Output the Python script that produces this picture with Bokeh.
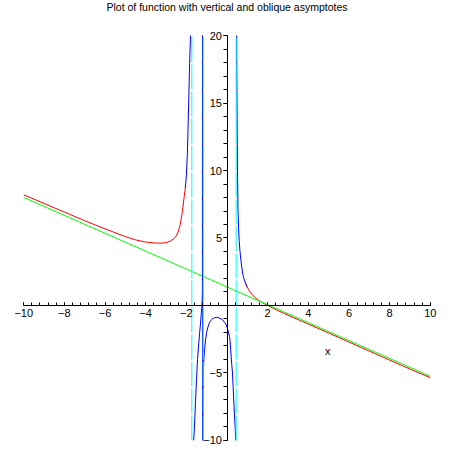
from bokeh.plotting import figure
from bokeh.models import Range1d, FixedTicker, Label
from bokeh.embed import file_html
from bokeh.resources import INLINE

title_text = "Plot of function with vertical and oblique asymptotes"
x_label_text = "x"

x_major = [-10, -8, -6, -4, -2, 0, 2, 4, 6, 8, 10]
x_minor = [round(-10 + 0.4 * i, 2) for i in range(51)]
y_major = [-10, -5, 0, 5, 10, 15, 20]
y_minor = list(range(-10, 21))

# oblique asymptote (green)
asym_x = [-10, 10]
asym_y = [8.0, -5.25]

# vertical asymptotes (cyan dashed)
vert_x = [-1.73, -1.17, 0.45]
vert_y = [-10, 20]

# function, left branch (red)
red_left_x = [-10, -9, -8, -7, -6, -5, -4.5, -4, -3.5, -3.2, -3, -2.8, -2.6,
              -2.5, -2.4, -2.3, -2.2, -2.12, -2.05]
red_left_y = [8.2, 7.56, 6.92, 6.28, 5.68, 5.1, 4.86, 4.7, 4.62, 4.62, 4.66,
              4.76, 4.96, 5.15, 5.45, 6.0, 6.9, 7.9, 8.7]

# function, right branch (red)
red_right_x = [0.92, 1.0, 1.1, 1.2, 1.35, 1.5, 1.75, 2.0, 2.5, 3, 4, 5, 6, 7,
               8, 9, 10]
red_right_y = [1.63, 1.35, 1.08, 0.88, 0.62, 0.44, 0.2, 0.0, -0.38, -0.72,
               -1.38, -2.04, -2.71, -3.38, -4.05, -4.71, -5.35]

# function near the poles (blue)
blue_a_x = [-2.05, -2.0, -1.95, -1.92, -1.88, -1.84, -1.795]
blue_a_y = [8.7, 9.6, 11.2, 12.9, 15.3, 17.9, 20.0]

blue_b_x = [-1.64, -1.60, -1.55, -1.50, -1.45, -1.40, -1.35, -1.30, -1.26,
            -1.23, -1.21, -1.205, -1.195]
blue_b_y = [-10.0, -9.0, -7.2, -5.5, -4.0, -3.0, -2.1, -1.3, -0.5, 0.0, 1.0,
            20.0, -10.0]

blue_c_x = [-1.195, -1.185, -1.17, -1.14, -1.10, -1.05, -1.00, -0.94, -0.87,
            -0.80, -0.70, -0.60, -0.52, -0.44, -0.35, -0.23, -0.12, -0.03,
            0.05, 0.12, 0.15, 0.18, 0.23, 0.27, 0.30, 0.33, 0.36, 0.39, 0.43]
blue_c_y = [-10, -7.5, -5.2, -4.0, -3.2, -2.5, -2.0, -1.6, -1.3, -1.12, -0.98,
            -0.9, -0.88, -0.9, -0.95, -1.05, -1.25, -1.45, -1.85, -2.3, -2.6,
            -3.3, -4.3, -5.0, -6.0, -7.0, -7.9, -8.7, -10]

blue_d_x = [0.475, 0.48, 0.50, 0.52, 0.54, 0.57, 0.60, 0.64, 0.68, 0.73, 0.78,
            0.85, 0.92, 1.0]
blue_d_y = [20, 18, 13, 9.5, 7.2, 5.8, 4.8, 4.0, 3.4, 2.8, 2.3, 1.9, 1.6, 1.35]

FONT = "Liberation Sans"

p = figure(width=450, height=450, output_backend="svg", toolbar_location=None,
           x_range=Range1d(-10.7, 10.7), y_range=Range1d(-10.6, 22.6),
           min_border_left=9, min_border_right=6, min_border_top=0,
           min_border_bottom=2)
p.outline_line_color = None
p.grid.visible = False
p.background_fill_color = "white"
p.border_fill_color = "white"

for ax in p.xaxis:
    ax.fixed_location = 0
    ax.bounds = (-10, 10)
    ax.ticker = FixedTicker(ticks=x_major, minor_ticks=x_minor)
    ax.major_label_overrides = {0: ""}
    ax.major_tick_in = 3
    ax.major_tick_out = 0
    ax.minor_tick_in = 3
    ax.minor_tick_out = 0
    ax.major_label_standoff = 4
    ax.major_label_text_font = FONT
    ax.major_label_text_font_size = "11px"
    ax.major_label_text_color = "black"
    ax.axis_line_color = "black"

for ax in p.yaxis:
    ax.fixed_location = 0
    ax.bounds = (-10, 20)
    ax.ticker = FixedTicker(ticks=y_major, minor_ticks=y_minor)
    ax.major_label_overrides = {0: ""}
    ax.major_tick_in = 0
    ax.major_tick_out = 4
    ax.minor_tick_in = 0
    ax.minor_tick_out = 4
    ax.major_label_standoff = 1
    ax.major_label_text_font = FONT
    ax.major_label_text_font_size = "11px"
    ax.major_label_text_color = "black"
    ax.axis_line_color = "black"

p.line(red_left_x, red_left_y, line_color="#ff0000", line_width=1)
p.line(red_right_x, red_right_y, line_color="#ff0000", line_width=1)
p.line(asym_x, asym_y, line_color="#00ff00", line_width=1)
for bx, by in [(blue_a_x, blue_a_y), (blue_b_x, blue_b_y),
               (blue_c_x, blue_c_y), (blue_d_x, blue_d_y)]:
    p.line(bx, by, line_color="#0000ff", line_width=1)
for vx in vert_x:
    p.line([vx, vx], vert_y, line_color="#00ffff", line_width=1,
           line_dash="25 2")

p.add_layout(Label(x=0, y=22.11, text=title_text, text_align="center",
                   text_baseline="middle", text_font=FONT,
                   text_font_size="10.5px", text_color="black"))
p.add_layout(Label(x=4.96, y=-3.4, text=x_label_text, text_align="center",
                   text_baseline="middle", text_font=FONT,
                   text_font_size="11px", text_color="black"))

open("out.html", "w").write(file_html(p, INLINE))
